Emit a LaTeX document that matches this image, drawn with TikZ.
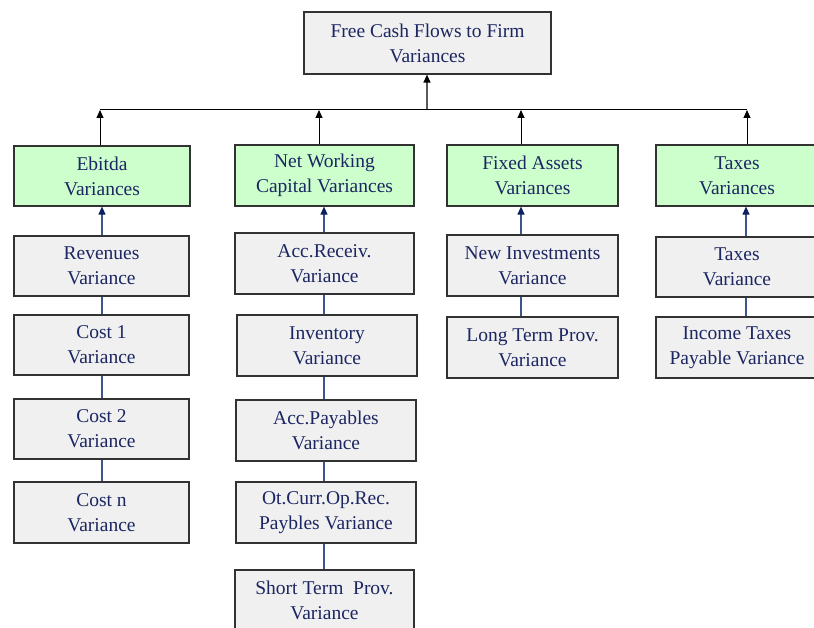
\documentclass[tikz,border=0pt]{standalone}
\usepackage{fontspec}
\setmainfont{Liberation Serif}
\usetikzlibrary{arrows.meta}
\definecolor{boxgray}{RGB}{240,240,240}
\definecolor{boxgreen}{RGB}{204,255,204}
\definecolor{edgecol}{RGB}{50,50,50}
\definecolor{txtcol}{RGB}{28,38,98}
\definecolor{navyline}{RGB}{60,85,140}
\definecolor{navytip}{RGB}{12,34,94}
\tikzset{
  x=1pt, y=-1pt,
  box/.style={draw=edgecol, line width=1.2pt, fill=boxgray, align=center, inner sep=0pt,
    text=txtcol, font=\fontsize{19.5}{25}\selectfont},
  gbox/.style={box, fill=boxgreen},
  busarrow/.style={line width=1pt, black, -{Triangle[length=8pt,width=7pt]}},
  subarrow/.style={line width=1.1pt, navyline, -{Triangle[length=8pt,width=7pt,color=navytip]}},
  subline/.style={line width=1.1pt, navyline}
}
\begin{document}
\begin{tikzpicture}
\useasboundingbox (0,0) rectangle (814,628);
\fill[white] (0,0) rectangle (814,628);
\clip (0,0) rectangle (814,628);
% top
\node[box, minimum width=247, minimum height=62] (top) at (427.5,43) {Free Cash Flows to Firm\\Variances};
% green level
\node[gbox, minimum width=176, minimum height=60] (ebitda) at (102,176) {Ebitda\\Variances};
\node[gbox, minimum width=179, minimum height=61] (nwc) at (324.5,175.5) {Net Working\\Capital Variances};
\node[gbox, minimum width=171, minimum height=61] (fa) at (532.5,175.5) {Fixed Assets\\Variances};
\node[gbox, minimum width=162, minimum height=61] (tax) at (737,175.5) {Taxes\\Variances};
% column 1
\node[box, minimum width=175, minimum height=60] (rev) at (101.5,266) {Revenues\\Variance};
\node[box, minimum width=175, minimum height=60] (cA) at (101.5,345) {Cost 1\\Variance};
\node[box, minimum width=175, minimum height=60] (cB) at (101.5,429) {Cost 2\\Variance};
\node[box, minimum width=175, minimum height=61] (cN) at (101.5,512.5) {Cost n\\Variance};
% column 2
\node[box, minimum width=179, minimum height=61] (ar) at (324.5,263.5) {Acc.Receiv.\\Variance};
\node[box, minimum width=180, minimum height=61] (inv) at (327,345.5) {Inventory\\Variance};
\node[box, minimum width=180, minimum height=61] (ap) at (326,430.5) {Acc.Payables\\Variance};
\node[box, minimum width=180, minimum height=61] (oc) at (326,512.5) {Ot.Curr.Op.Rec.\\Paybles Variance};
\node[box, minimum width=179, minimum height=61] (st) at (324.5,600.5) {Short Term~~Prov.\\Variance};
% column 3
\node[box, minimum width=171, minimum height=61] (ni) at (532.5,265.5) {New Investments\\Variance};
\node[box, minimum width=171, minimum height=61] (lt) at (532.5,347.5) {Long Term Prov.\\Variance};
% column 4
\node[box, minimum width=162, minimum height=60] (tv) at (737,267) {Taxes\\Variance};
\node[box, minimum width=162, minimum height=61] (it) at (737,347.5) {Income Taxes\\Payable Variance};
% bus
\coordinate (bus) at (427,110);
\coordinate (b1) at (100,110);
\coordinate (b2) at (319,110);
\coordinate (b3) at (521,110);
\coordinate (b4) at (747,110);
\draw[line width=1.2pt, black!65, -{Triangle[length=8pt,width=7pt,color=black]}] (bus) -- (bus |- top.south);
\draw[line width=1pt, black] (b1) -- (b4);
\draw[busarrow] (b1 |- ebitda.north) -- (b1);
\draw[busarrow] (b2 |- nwc.north) -- (b2);
\draw[busarrow] (b3 |- fa.north) -- (b3);
\draw[busarrow] (b4 |- tax.north) -- (b4);
% sub connectors
\coordinate (x1) at (102,0);
\coordinate (x2) at (324,0);
\coordinate (x3) at (521,0);
\coordinate (x4) at (746,0);
\draw[subarrow] (rev.north -| x1) -- (ebitda.south -| x1);
\draw[subline] (cA.north -| x1) -- (rev.south -| x1);
\draw[subline] (cB.north -| x1) -- (cA.south -| x1);
\draw[subline] (cN.north -| x1) -- (cB.south -| x1);
\draw[subarrow] (ar.north -| x2) -- (nwc.south -| x2);
\draw[subline] (inv.north -| x2) -- (ar.south -| x2);
\draw[subline] (ap.north -| x2) -- (inv.south -| x2);
\draw[subline] (oc.north -| x2) -- (ap.south -| x2);
\draw[subline] (st.north -| x2) -- (oc.south -| x2);
\draw[subarrow] (ni.north -| x3) -- (fa.south -| x3);
\draw[subline] (lt.north -| x3) -- (ni.south -| x3);
\draw[subarrow] (tv.north -| x4) -- (tax.south -| x4);
\draw[subline] (it.north -| x4) -- (tv.south -| x4);
\end{tikzpicture}
\end{document}
